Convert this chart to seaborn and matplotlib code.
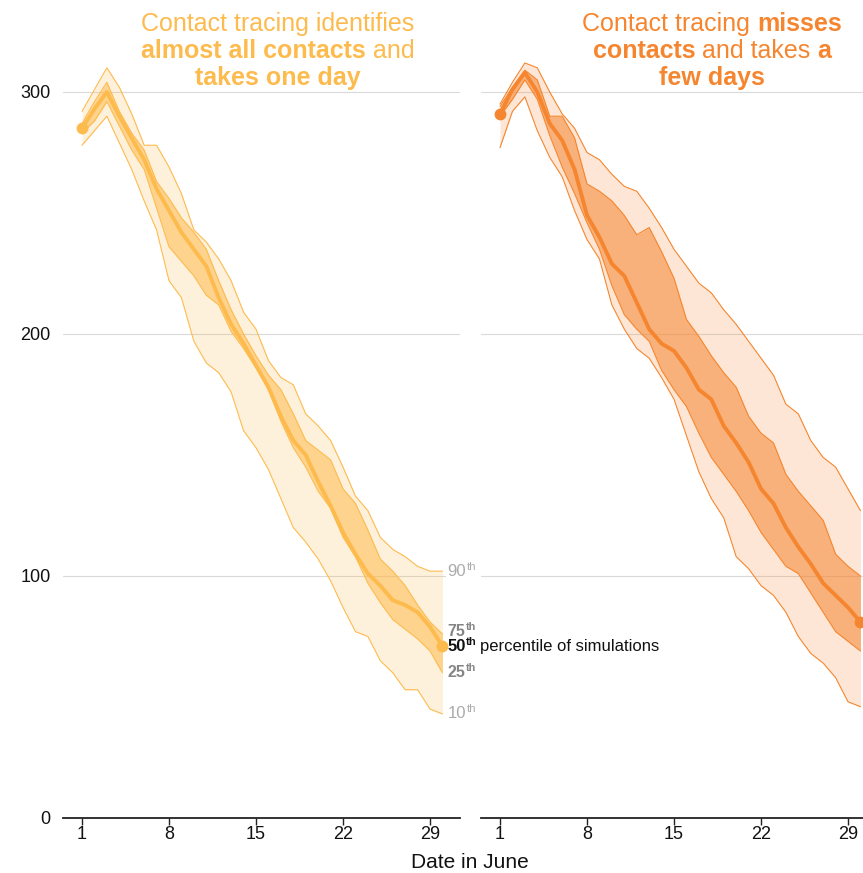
import matplotlib
matplotlib.use("Agg")
import matplotlib.pyplot as plt
import seaborn as sns
import pandas as pd
from matplotlib.offsetbox import TextArea, HPacker, VPacker, AnnotationBbox

# ---- data ----
days = list(range(1, 31))
x_ticks = [1, 8, 15, 22, 29]
y_ticks = [0, 100, 200, 300]

# contact tracing finds almost everyone, one day
fast_p90 = [292, 301, 310, 302, 291, 278, 278, 269, 258, 243, 238, 231, 222, 209, 202,
            189, 182, 179, 167, 162, 156, 145, 133, 127, 116, 111, 108, 104, 102, 102]
fast_p75 = [287, 296, 304, 292, 283, 276, 263, 256, 248, 242, 235, 222, 210, 200, 191,
            183, 177, 167, 156, 152, 148, 136, 130, 119, 107, 102, 96, 88, 81, 76]
fast_p50 = [285, 293, 300, 290, 281, 272, 260, 251, 242, 235, 228, 215, 204, 196, 187,
            178, 166, 156, 150, 139, 129, 118, 109, 101, 96, 90, 88, 85, 79, 71]
fast_p25 = [283, 288, 296, 286, 276, 268, 252, 236, 230, 224, 216, 212, 201, 194, 186,
            177, 164, 153, 145, 135, 128, 116, 108, 97, 89, 82, 78, 74, 69, 60]
fast_p10 = [278, 284, 290, 279, 268, 255, 243, 222, 215, 197, 188, 184, 176, 160, 153,
            144, 132, 120, 114, 107, 98, 87, 77, 75, 65, 60, 53, 53, 45, 43]

# contact tracing misses contacts, a few days
slow_p90 = [295, 304, 312, 310, 300, 291, 285, 275, 272, 266, 261, 259, 252, 244, 235,
            228, 221, 217, 210, 204, 197, 190, 183, 171, 167, 156, 149, 145, 136, 127]
slow_p75 = [294, 302, 309, 305, 290, 290, 281, 262, 259, 255, 249, 241, 244, 234, 223,
            206, 199, 191, 184, 178, 166, 159, 155, 142, 135, 129, 123, 109, 104, 100]
slow_p50 = [291, 301, 308, 300, 287, 280, 268, 249, 240, 229, 224, 213, 202, 196, 193,
            186, 177, 173, 162, 155, 147, 136, 130, 120, 112, 105, 97, 92, 87, 81]
slow_p25 = [290, 297, 305, 297, 282, 269, 258, 246, 235, 220, 208, 202, 197, 185, 177,
            170, 159, 149, 142, 135, 127, 118, 111, 104, 101, 93, 85, 77, 73, 69]
slow_p10 = [277, 292, 298, 284, 273, 265, 251, 239, 231, 212, 202, 194, 190, 182, 173,
            158, 143, 132, 124, 108, 103, 96, 92, 85, 75, 68, 64, 58, 48, 46]

FAST_COLOR = "#FDBB4E"
SLOW_COLOR = "#F5862F"

sns.set_theme(style="white")
plt.rcParams["font.family"] = ["Liberation Sans", "DejaVu Sans"]

W, H = 863, 873
fig = plt.figure(figsize=(W / 100, H / 100), dpi=100)

# axes placed in pixels so both panels share the same scale
def px_axes(x0, x1, y_top, y_bot):
    return fig.add_axes([x0 / W, (H - y_bot) / H, (x1 - x0) / W, (y_bot - y_top) / H])

ax_l = px_axes(63, 460, 43.6, 818)
ax_r = px_axes(481, 878, 43.6, 818)
ax_l.set_zorder(3)
for ax in (ax_l, ax_r):
    ax.patch.set_alpha(0)


def draw_panel(ax, p10, p25, p50, p75, p90, color):
    df = pd.DataFrame({"day": days, "p10": p10, "p25": p25, "p50": p50,
                       "p75": p75, "p90": p90})
    ax.fill_between(df["day"], df["p10"], df["p90"], color=color, alpha=0.2, lw=0)
    ax.fill_between(df["day"], df["p25"], df["p75"], color=color, alpha=0.55, lw=0)
    for col in ["p10", "p25", "p75", "p90"]:
        ax.plot(df["day"], df[col], color=color, lw=0.8)
    sns.lineplot(data=df, x="day", y="p50", color=color, lw=2.8, ax=ax)
    ends = df.iloc[[0, -1]]
    ax.plot(ends["day"], ends["p50"], "o", color=color, ms=7.5, clip_on=False, zorder=5)

    for yv in y_ticks[1:]:
        ax.axhline(yv, color="#DADADA", lw=0.8, zorder=0)
    ax.set_xlim(-0.53, 31.41)
    ax.set_ylim(0, 320)
    ax.set_xticks(x_ticks)
    ax.set_xticklabels([str(t) for t in x_ticks])
    ax.set_xlabel("")
    ax.set_ylabel("")
    for side in ["top", "right", "left"]:
        ax.spines[side].set_visible(False)
    ax.spines["bottom"].set_color("#222222")
    ax.spines["bottom"].set_linewidth(1.3)
    ax.tick_params(axis="x", direction="out", length=5, width=1, color="#222222",
                   labelsize=13, pad=0.5, labelcolor="#111111", bottom=True)


draw_panel(ax_l, fast_p10, fast_p25, fast_p50, fast_p75, fast_p90, FAST_COLOR)
draw_panel(ax_r, slow_p10, slow_p25, slow_p50, slow_p75, slow_p90, SLOW_COLOR)

ax_l.set_yticks(y_ticks)
ax_l.set_yticklabels([str(t) for t in y_ticks])
ax_l.tick_params(axis="y", length=0, labelsize=13, pad=9, labelcolor="#111111")
ax_r.set_yticks([])

fig.text(470 / W, 1 - 862 / H, "Date in June", ha="center", va="center",
         fontsize=15, color="#111111")


# ---- titles with mixed weights ----
def title_block(x_px, y_px, lines, color):
    rows = []
    for segs in lines:
        kids = [TextArea(txt, textprops=dict(color=color, fontsize=18,
                                             fontweight="bold" if bold else "normal"))
                for txt, bold in segs]
        rows.append(HPacker(children=kids, align="baseline", pad=0, sep=5))
    box = VPacker(children=rows, align="center", pad=0, sep=2)
    ab = AnnotationBbox(box, (x_px, y_px), xycoords="figure pixels",
                        box_alignment=(0.5, 1), frameon=False)
    fig.add_artist(ab)


title_block(278, H - 12, [
    [("Contact tracing identifies", False)],
    [("almost all contacts", True), ("and", False)],
    [("takes one day", True)],
], FAST_COLOR)

title_block(712, H - 12, [
    [("Contact tracing", False), ("misses", True)],
    [("contacts", True), ("and takes", False), ("a", True)],
    [("few days", True)],
], SLOW_COLOR)


# ---- percentile key at the end of the left panel ----
def pct_label(yv, num, color, weight, size, bg=False):
    t = ax_l.text(30.4, yv, num, color=color, fontsize=size, fontweight=weight,
                  ha="left", va="center", clip_on=False,
                  bbox=dict(facecolor="white", edgecolor="none", pad=1) if bg else None)
    sup = ax_l.annotate("th", xy=(1, 1), xycoords=t, xytext=(0.3, 1.5),
                        textcoords="offset points", color=color, fontsize=size * 0.68,
                        fontweight=weight, ha="left", va="top", annotation_clip=False)
    return t, sup


pct_label(fast_p90[-1], "90", "#ABABAB", "normal", 12, bg=True)
pct_label(fast_p75[-1] + 1, "75", "#858585", "bold", 11.5)
t50, sup50 = pct_label(fast_p50[-1], "50", "#111111", "bold", 12)
ax_l.annotate("percentile of simulations", xy=(1, 0), xycoords=(sup50, t50),
              xytext=(2, 0), textcoords="offset points", fontsize=12,
              color="#111111", ha="left", va="bottom", annotation_clip=False)
pct_label(fast_p25[-1], "25", "#858585", "bold", 11.5)
pct_label(fast_p10[-1], "10", "#ABABAB", "normal", 12)

fig.savefig("out.png", dpi=100)
